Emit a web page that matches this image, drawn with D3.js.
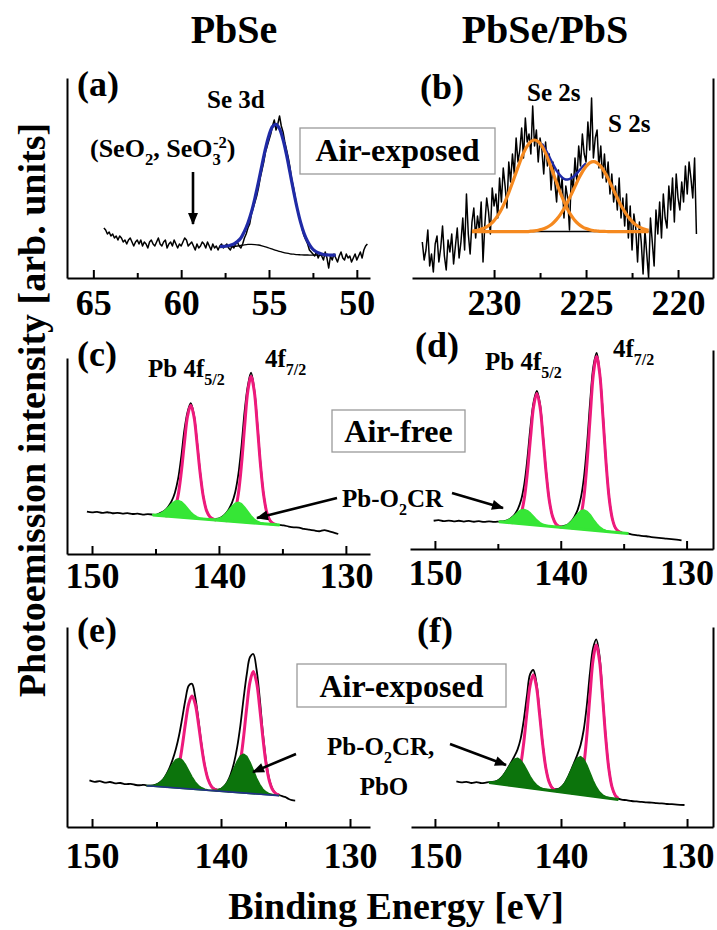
<!DOCTYPE html>
<html>
<head>
<meta charset="utf-8">
<script src="https://cdn.jsdelivr.net/npm/d3@7"></script>
<style>
  body { margin: 0; background: #fff; }
  svg { display: block; }
  text { font-family: "Liberation Serif", "Times New Roman", serif; font-weight: bold; }
</style>
</head>
<body>
<div id="chart"></div>
<script>
// ---- data (binding energy in eV, intensity in arb. units 0-100 per panel) ----
const columnTitles = ['PbSe', 'PbSe/PbS']
const xTitle = 'Binding Energy [eV]'
const yTitle = 'Photoemission intensity [arb. units]'

// (a) Se 3d, PbSe air-exposed
const aTicks = [65, 60, 55, 50]
const aMinor = [62.5, 57.5, 52.5]
const aRawStart = 64.4
const aRaw = [25, 24, 22, 23, 21, 22, 20, 21, 19, 21, 20, 18, 19, 17, 19, 20, 18, 16, 18, 19,
  17, 19, 16, 18, 17, 15, 18, 19, 17, 16, 18, 20, 17, 16, 18, 19, 15, 17, 18, 16,
  19, 17, 15, 17, 16, 18, 20, 19, 16, 17, 18, 16, 14, 17, 15, 16, 18, 17, 15, 18,
  16, 14, 17, 15, 16, 14, 16, 17, 15, 16, 17, 15, 14, 16, 15, 17, 18, 16, 15, 17,
  20, 22, 25, 27, 32, 35, 38, 41, 45, 50, 54, 58, 63, 66, 69, 72, 76, 79, 74, 77,
  81, 76, 73, 68, 64, 60, 55, 49, 45, 40, 35, 31, 28, 24, 21, 19, 17, 14, 13, 12,
  11, 13, 10, 12, 11, 9, 13, 10, 5, 11, 9, 12, 10, 8, 11, 13, 10, 9, 12, 10,
  11, 8, 10, 12, 9, 11, 13, 10, 14, 16, 17]
const aFitStart = 57.8
const aFit = [15.7, 15.8, 16.0, 16.4, 17.0, 18.2, 20.0, 23.3, 27.5, 33.0, 40.0, 48.0, 56.5, 64.7, 71.4, 75.7, 76.8,
  74.6, 69.2, 61.5, 52.5, 43.4, 35.0, 27.8, 22.2, 18.2, 15.4, 13.6, 12.6, 12.0, 11.6, 11.5, 11.4, 11.4]
const aBg = [15.7, 15.7, 15.7, 15.7, 15.8, 16.0, 16.3, 16.6, 16.8, 16.8, 16.7, 16.5, 16.1, 15.6, 15.0, 14.4, 13.8,
  13.3, 12.8, 12.4, 12.1, 11.9, 11.7, 11.6, 11.5, 11.5, 11.4, 11.4, 11.4, 11.4, 11.4, 11.4, 11.4, 11.4]

// (b) Se 2s / S 2s, PbSe/PbS air-exposed
const bTicks = [230, 225, 220]
const bMinor = [227.5, 222.5]
const bRawStart = 233.9
const bRaw = [18, 9, 14, 24, 6, 12, 3, 17, 21, 8, 15, 26, 11, 4, 19, 13, 22, 7, 16, 25,
  10, 18, 30, 14, 42, 22, 12, 28, 35, 20, 31, 24, 38, 8, 27, 40, 33, 22, 45, 36,
  42, 30, 50, 38, 55, 46, 35, 58, 48, 62, 52, 70, 58, 64, 75, 60, 80, 68, 72, 62,
  86, 66, 74, 58, 70, 64, 52, 68, 56, 62, 44, 58, 48, 38, 54, 42, 50, 30, 46, 40,
  24, 52, 44, 60, 48, 66, 56, 72, 62, 58, 78, 64, 90, 60, 70, 74, 55, 66, 50, 62,
  48, 58, 42, 52, 38, 46, 34, 50, 30, 40, 26, 42, 20, 36, 14, 32, 25, 8, 28, 18,
  2, 24, 12, 0, 30, 18, 6, 34, 22, 38, 20, 42, 30, 25, 46, 34, 50, 28, 52, 40,
  34, 48, 38, 56, 42, 58, 50, 40, 60, 22]
const bFitStart = 231.2
const bSe = [23.5, 23.7, 24.1, 24.7, 25.6, 26.9, 28.7, 31.2, 34.3, 38.2, 42.7, 47.6, 52.8, 57.8, 62.4, 65.9, 68.2,
  69.0, 68.2, 65.9, 62.4, 57.8, 52.8, 47.6, 42.7, 38.2, 34.3, 31.2, 28.7, 26.9, 25.6, 24.7, 24.1, 23.7, 23.5,
  23.3, 23.3, 23.2, 23.2, 23.2, 23.2, 23.2, 23.2, 23.2, 23.2, 23.2, 23.2, 23.2, 23.2]
const bS = [23.2, 23.2, 23.2, 23.2, 23.2, 23.2, 23.2, 23.2, 23.2, 23.2, 23.2, 23.2, 23.2, 23.2, 23.2, 23.2, 23.4,
  23.6, 23.9, 24.4, 25.0, 26.0, 27.4, 29.3, 31.7, 34.6, 38.1, 41.9, 45.8, 49.7, 53.1, 55.8, 57.6, 58.2, 57.6,
  55.8, 53.1, 49.7, 45.8, 41.9, 38.1, 34.6, 31.7, 29.3, 27.4, 26.0, 25.0, 24.4, 23.9]
const bSumStart = 227.4
const bSum = [67.1, 64.2, 60.6, 57.0, 53.7, 51.2, 49.6, 49.2, 49.9, 51.3, 53.4, 55.5, 57.3]
const bBase = [[231.2, 23.2], [221.6, 23.2]]

// Pb 4f panels (c)-(f)
const pbTicks = [150, 140, 130]
const pbMinor = [145, 135]

// (c) PbSe air-free
const cStart = 145.22
const cGreen = [20.0, 20.1, 20.5, 21.2, 22.4, 24.0, 25.7, 26.9, 27.3, 26.7, 25.2, 23.3, 21.4, 19.9, 18.9, 18.3, 18.0,
  17.7, 17.6, 17.6, 17.8, 18.2, 19.1, 20.5, 22.4, 24.4, 25.9, 26.4, 25.7, 23.9, 21.7, 19.5, 17.8, 16.7, 16.0,
  15.6, 15.3, 15.1, 15.0, 14.9, 14.8]
const cBg = [[145.22, 19.9], [135.22, 14.8]]
const cPink1Start = 144.22
const cPink1 = [19.4, 19.6, 20.5, 23.3, 29.8, 41.5, 56.7, 70.4, 75.9, 70.2, 56.2, 40.7, 28.8, 22.0, 19.0, 17.8, 17.4]
const cPink2Start = 139.47
const cPink2 = [17.0, 17.3, 18.5, 22.2, 30.7, 45.8, 65.6, 83.3, 90.5, 83.1, 65.0, 45.0, 29.7, 20.9, 17.0, 15.5, 15.0]
const cRawPeak = [20.1, 19.9, 20.6, 21.4, 22.5, 24.4, 27.1, 31.3, 38.3, 49.5, 63.3, 72.5, 77.0, 71.0, 57.0, 41.1, 29.0,
  22.1, 19.0, 18.0, 17.9, 18.2, 19.1, 20.6, 22.9, 26.2, 31.5, 40.7, 55.2, 73.3, 86.0, 92.5, 84.0, 66.1, 45.5,
  29.9, 20.9, 16.9, 15.5, 15.0, 14.8]
const cRawLeft = [[150.4, 21.6], [150.0, 21.2], [149.6, 21.5], [149.2, 21.0], [148.8, 21.3], [148.4, 20.8],
  [148.0, 21.0], [147.6, 20.6], [147.2, 20.9], [146.8, 20.4], [146.4, 20.6], [146.0, 20.1], [145.6, 20.3]]
const cRawRight = [[134.9, 14.6], [134.5, 14.0], [134.1, 13.6], [133.7, 13.5], [133.3, 12.8], [132.9, 12.4],
  [132.5, 12.0], [132.1, 11.6], [131.7, 12.2], [131.3, 11.5], [130.9, 10.8], [130.6, 10.2]]

// (d) PbSe/PbS air-free
const dStart = 144.9
const dGreen = [13.8, 13.9, 14.1, 14.7, 15.8, 17.1, 18.6, 19.6, 19.9, 19.3, 18.0, 16.3, 14.6, 13.3, 12.4, 11.9, 11.5,
  11.3, 11.2, 11.1, 11.3, 11.7, 12.5, 13.9, 15.8, 17.7, 19.2, 19.6, 18.9, 17.2, 14.9, 12.8, 11.1, 10.0, 9.3,
  8.9, 8.6, 8.4, 8.3, 8.1, 8.0, 7.8]
const dBg = [[144.9, 13.7], [134.65, 7.8]]
const dPink1Start = 143.9
const dPink1 = [13.2, 13.4, 14.4, 17.7, 25.2, 38.5, 56.1, 71.8, 78.2, 71.5, 55.5, 37.7, 24.0, 16.3, 12.7, 11.4, 10.9]
const dPink2Start = 139.15
const dPink2 = [10.5, 10.8, 12.2, 16.6, 26.5, 44.2, 67.4, 88.2, 96.7, 88.0, 66.8, 43.4, 25.4, 15.2, 10.5, 8.8, 8.2]
const dRawPeak = [13.8, 13.9, 14.1, 14.7, 15.9, 17.5, 20.2, 24.6, 32.5, 45.5, 61.8, 74.0, 79.5, 73.0, 56.2, 38.1, 24.1,
  16.3, 12.8, 11.5, 11.4, 11.7, 12.5, 14.0, 16.4, 19.8, 25.8, 36.3, 53.4, 75.1, 92.0, 98.5, 88.5, 67.9, 43.8,
  25.6, 15.2, 10.5, 8.9, 8.2, 8.0, 7.8]
const dRawLeft = [[150.1, 14.2], [149.7, 14.5], [149.3, 14.0], [148.9, 14.3], [148.5, 13.9], [148.1, 14.2],
  [147.7, 13.8], [147.3, 14.1], [146.9, 13.7], [146.5, 14.0], [146.1, 13.6], [145.7, 13.9], [145.3, 13.6]]
const dRawRight = [[134.4, 7.3], [134.0, 7.0], [133.6, 6.6], [133.2, 6.4], [132.8, 6.0], [132.4, 5.7],
  [132.0, 5.5], [131.6, 5.2], [131.2, 5.0], [130.8, 4.7], [130.4, 4.3]]

// (e) PbSe air-exposed
const eStart = 145.75
const eGreen = [20.7, 20.7, 20.8, 21.3, 22.2, 23.7, 26.0, 28.8, 31.6, 33.7, 34.3, 33.4, 31.1, 28.1, 25.1, 22.5, 20.7,
  19.6, 18.9, 18.5, 18.4, 18.4, 18.5, 19.1, 20.4, 22.5, 25.5, 29.2, 32.8, 35.5, 36.4, 35.3, 32.3, 28.5, 24.5,
  21.3, 18.9, 17.5, 16.6, 16.2, 15.9, 15.7]
const eBg = [[145.75, 20.6], [135.5, 15.7]]
const ePink1Start = 144.25
const ePink1 = [20.1, 20.5, 21.7, 24.9, 31.0, 40.6, 52.1, 61.7, 65.5, 61.5, 51.6, 39.9, 30.1, 23.7, 20.3, 18.8, 18.2]
const ePink2Start = 139.5
const ePink2 = [17.9, 18.4, 20.1, 24.2, 32.4, 45.0, 60.1, 72.7, 77.7, 72.5, 59.6, 44.3, 31.4, 23.0, 18.6, 16.7, 16.0]
const eRawPeak = [20.7, 20.7, 20.8, 21.3, 22.2, 23.7, 26.2, 29.5, 33.7, 39.0, 45.9, 54.7, 64.0, 70.7, 71.6, 65.1, 53.6,
  40.9, 30.5, 23.8, 20.5, 19.1, 18.7, 19.1, 20.4, 22.7, 26.4, 31.9, 39.8, 50.7, 64.3, 76.5, 85.0, 86.5, 79.0,
  64.4, 46.8, 32.7, 23.6, 18.9, 16.8, 16.0]
const eRawLeft = [[150.2, 23.3], [149.8, 22.6], [149.4, 22.9], [149.0, 22.2], [148.6, 22.5], [148.2, 21.8],
  [147.8, 22.0], [147.4, 21.4], [147.0, 21.6], [146.6, 21.0], [146.2, 20.9], [145.95, 21.1]]
const eRawRight = [[135.25, 15.4], [135.0, 14.9], [134.75, 14.0], [134.5, 13.4], [134.25, 13.2]]

// (f) PbSe/PbS air-exposed
const fStart = 145.7
const fGreen = [22.4, 22.5, 22.8, 23.5, 24.9, 27.0, 29.5, 32.0, 33.9, 34.4, 33.4, 31.2, 28.3, 25.3, 22.9, 21.1, 19.9,
  19.2, 18.7, 18.5, 18.3, 18.5, 19.0, 20.1, 22.0, 24.9, 28.4, 31.8, 34.4, 35.2, 34.0, 31.0, 27.1, 23.2, 20.0,
  17.6, 16.1, 15.2, 14.6, 14.3, 14.0, 13.8]
const fBg = [[145.7, 22.3], [135.45, 13.8]]
const fPink1Start = 144.2
const fPink1 = [21.1, 21.2, 22.0, 24.7, 31.0, 42.4, 57.3, 70.7, 76.1, 70.3, 56.5, 41.2, 29.4, 22.6, 19.5, 18.3, 17.8]
const fPink2Start = 139.2
const fPink2 = [17.0, 17.2, 18.3, 22.0, 30.5, 45.8, 65.8, 83.7, 91.0, 83.3, 64.9, 44.5, 28.9, 19.9, 15.9, 14.3]
const fRawPeak = [22.4, 22.5, 22.8, 23.5, 24.9, 27.0, 29.6, 32.4, 35.3, 38.7, 44.2, 53.6, 65.8, 76.4, 78.5, 72.2, 57.4,
  41.6, 29.5, 22.8, 19.7, 18.9, 19.1, 20.1, 22.0, 24.9, 28.5, 32.3, 36.2, 40.9, 48.5, 60.9, 77.2, 89.5, 93.8,
  85.9, 66.2, 45.1, 29.1, 20.0, 15.8, 14.3]
const fRawLeft = [[148.3, 22.8], [147.9, 22.3], [147.5, 22.6], [147.1, 22.0], [146.7, 22.4], [146.3, 21.9], [145.95, 22.2]]
const fRawRight = [[135.2, 13.7], [134.8, 13.4], [134.4, 13.0], [134.0, 12.8], [133.6, 12.6], [133.2, 12.3],
  [132.8, 12.2], [132.4, 11.9], [132.0, 11.8], [131.6, 11.5], [131.2, 11.4], [130.8, 11.2], [130.2, 11.0]]

// ---- rendering ----
const W = 717, H = 930
const PINK = '#ee1a7c'
const svg = d3.select('#chart').append('svg').attr('width', W).attr('height', H)

svg.append('defs').append('marker')
  .attr('id', 'ah').attr('viewBox', '0 0 12 10').attr('refX', 11).attr('refY', 5)
  .attr('markerWidth', 13).attr('markerHeight', 10).attr('markerUnits', 'userSpaceOnUse').attr('orient', 'auto')
  .append('path').attr('d', 'M0,0L12,5L0,10Z').attr('fill', '#000')

// turn a uniform grid (start, step in eV downward) into [E, I] pairs
const grid = (start, vals, step) => vals.map((v, i) => [+(start - i * step).toFixed(3), v])

function frame(p) {
  const x = d3.scaleLinear().domain(p.dom).range(p.xr)
  const y = d3.scaleLinear().domain([0, 100]).range([p.base, p.top])
  const g = svg.append('g')

  const ax = g.append('g').attr('transform', `translate(0,${p.base})`)
    .call(d3.axisBottom(x).tickValues(p.major).tickSize(-8).tickSizeOuter(0)
      .tickPadding(p.pad).tickFormat(d3.format('d')))
  ax.attr('font-size', 36)
  ax.selectAll('path, line').attr('stroke-width', 2)

  g.append('g').attr('transform', `translate(0,${p.base})`)
    .call(d3.axisBottom(x).tickValues(p.minor).tickSize(-5).tickFormat(''))
    .call(s => s.select('.domain').remove())
    .selectAll('line').attr('stroke-width', 2)

  // the single vertical frame line (left or right)
  const vx = p.side === 'left' ? p.xr[0] : p.xr[1]
  g.append('g').attr('transform', `translate(${vx},0)`)
    .call((p.side === 'left' ? d3.axisLeft(y) : d3.axisRight(y)).tickValues([]).tickSizeOuter(0))
    .select('.domain').attr('stroke-width', 2)

  const line = (curve) => d3.line().x(d => x(d[0])).y(d => y(d[1])).curve(curve || d3.curveLinear)
  const path = (data, stroke, width, curve) =>
    g.append('path').datum(data).attr('d', line(curve)).attr('fill', 'none')
      .attr('stroke', stroke).attr('stroke-width', width).attr('stroke-linejoin', 'round')
  return { g, x, y, line, path }
}

// (a)
const A = frame({ dom: [66.5, 49.25], xr: [67, 370], base: 278, top: 78, side: 'left', major: aTicks, minor: aMinor, pad: 11 })
A.path(grid(aRawStart, aRaw, 0.1), '#000', 1.5)
A.path(grid(aFitStart, aBg, 0.2), '#000', 1.3, d3.curveCatmullRom)
A.path(grid(aFitStart, aFit, 0.2), '#1f2aa6', 3.2, d3.curveCatmullRom)

// (b)
const B = frame({ dom: [234.46, 218.1], xr: [412, 713], base: 278, top: 78, side: 'right', major: bTicks, minor: bMinor, pad: 11 })
B.path(grid(bRawStart, bRaw, 0.1), '#000', 1.5)
B.path(bBase, '#000', 1.5)
B.path(grid(bSumStart, bSum, 0.2), '#1f2aa6', 2.5, d3.curveCatmullRom)
B.path(grid(bFitStart, bSe, 0.2), '#f5891f', 3.2, d3.curveCatmullRom)
B.path(grid(bFitStart, bS, 0.2), '#f5891f', 3.2, d3.curveCatmullRom)

// (c)-(f)
function pbPanel(P, s, green, bgColor) {
  P.path(s.left.concat(grid(s.start, s.raw, 0.25), s.right), '#000', 1.8, d3.curveCatmullRom)
  P.path(grid(s.p1Start, s.p1, 0.25), PINK, 3, d3.curveCatmullRom)
  P.path(grid(s.p2Start, s.p2, 0.25), PINK, 3, d3.curveCatmullRom)
  const top = grid(s.start, s.green, 0.25)
  const poly = top.concat([s.bg[1], s.bg[0]])
  P.g.append('path').datum(poly)
    .attr('d', d3.line().x(d => P.x(d[0])).y(d => P.y(d[1])).curve(d3.curveLinearClosed))
    .attr('fill', green).attr('stroke', green).attr('stroke-width', 1.5).attr('stroke-linejoin', 'round')
  P.path(s.bg, bgColor, bgColor === green ? 3 : 1.6)
}

const C = frame({ dom: [151.97, 128.1], xr: [67, 370], base: 554, top: 358, side: 'left', major: pbTicks, minor: pbMinor, pad: 8 })
pbPanel(C, { start: cStart, raw: cRawPeak, left: cRawLeft, right: cRawRight, green: cGreen, bg: cBg,
  p1Start: cPink1Start, p1: cPink1, p2Start: cPink2Start, p2: cPink2 }, '#36e636', '#36e636')

const D = frame({ dom: [151.98, 127.9], xr: [410, 713], base: 549, top: 350, side: 'right', major: pbTicks, minor: pbMinor, pad: 10 })
pbPanel(D, { start: dStart, raw: dRawPeak, left: dRawLeft, right: dRawRight, green: dGreen, bg: dBg,
  p1Start: dPink1Start, p1: dPink1, p2Start: dPink2Start, p2: dPink2 }, '#36e636', '#36e636')

const E = frame({ dom: [151.94, 128.45], xr: [67, 370], base: 827, top: 627, side: 'left', major: pbTicks, minor: pbMinor, pad: 15 })
pbPanel(E, { start: eStart, raw: eRawPeak, left: eRawLeft, right: eRawRight, green: eGreen, bg: eBg,
  p1Start: ePink1Start, p1: ePink1, p2Start: ePink2Start, p2: ePink2 }, '#0c740c', '#23308a')

const F = frame({ dom: [151.9, 127.94], xr: [411, 713], base: 827, top: 627, side: 'right', major: pbTicks, minor: pbMinor, pad: 15 })
pbPanel(F, { start: fStart, raw: fRawPeak, left: fRawLeft, right: fRawRight, green: fGreen, bg: fBg,
  p1Start: fPink1Start, p1: fPink1, p2Start: fPink2Start, p2: fPink2 }, '#0c740c', '#0c740c')

// ---- text ----
function rich(sel, parts, size) {
  let shift = 0
  parts.forEach(([t, k], i) => {
    const target = k === 'sub' ? size * 0.3 : k === 'sup' ? -size * 0.36 : 0
    const ts = sel.append('tspan').text(t).attr('dy', target - shift)
    if (k) ts.attr('font-size', size * 0.64)
    if (k === 'sup' && parts[i - 1] && parts[i - 1][1] === 'sub') ts.attr('dx', -size * 0.3)
    shift = target
  })
}
function label(x, y, parts, size, anchor) {
  const t = svg.append('text').attr('x', x).attr('y', y).attr('font-size', size)
    .attr('text-anchor', anchor || 'start')
  rich(t, typeof parts === 'string' ? [[parts]] : parts, size)
  return t
}
function boxLabel(x, y, w, h, text, baseline) {
  svg.append('rect').attr('x', x).attr('y', y).attr('width', w).attr('height', h)
    .attr('fill', '#fff').attr('stroke', '#9a9a9a').attr('stroke-width', 1.3)
  label(x + w / 2, baseline, text, 32, 'middle')
}
function arrow(x1, y1, x2, y2) {
  svg.append('line').attr('x1', x1).attr('y1', y1).attr('x2', x2).attr('y2', y2)
    .attr('stroke', '#000').attr('stroke-width', 2.6).attr('marker-end', 'url(#ah)')
}

label(234, 43, columnTitles[0], 40, 'middle')
label(545, 43, columnTitles[1], 40, 'middle')
label(396, 919, xTitle, 38, 'middle')
svg.append('text').attr('transform', 'translate(45,410) rotate(-90)')
  .attr('text-anchor', 'middle').attr('font-size', 38).text(yTitle)

// panel letters
label(77, 96, '(a)', 36)
label(420, 99, '(b)', 36)
label(77, 366, '(c)', 36)
label(415, 357, '(d)', 36)
label(77, 642, '(e)', 36)
label(417, 642, '(f)', 36)

// row 1
label(207, 108, 'Se 3d', 25)
label(90, 157, [['(SeO'], ['2', 'sub'], [', SeO'], ['3', 'sub'], ['-2', 'sup'], [')']], 26)
arrow(193, 172, 193, 224)
boxLabel(300, 128, 195, 46, 'Air-exposed', 161)
label(527, 101, 'Se 2s', 25)
label(608, 132, 'S 2s', 25)

// row 2
label(148, 377, [['Pb 4f'], ['5/2', 'sub']], 25)
label(265, 367, [['4f'], ['7/2', 'sub']], 25)
label(485, 370, [['Pb 4f'], ['5/2', 'sub']], 25)
label(613, 357, [['4f'], ['7/2', 'sub']], 25)
boxLabel(332, 410, 133, 42, 'Air-free', 442)
label(342, 507, [['Pb-O'], ['2', 'sub'], ['CR']], 25)
arrow(337, 498, 257, 518)
arrow(452, 493, 503, 508)

// row 3
boxLabel(297, 664, 209, 43, 'Air-exposed', 697)
label(327, 755, [['Pb-O'], ['2', 'sub'], ['CR,']], 25)
label(384, 795, 'PbO', 25, 'middle')
arrow(296, 754, 253, 772)
arrow(450, 744, 506, 765)
</script>
</body>
</html>
